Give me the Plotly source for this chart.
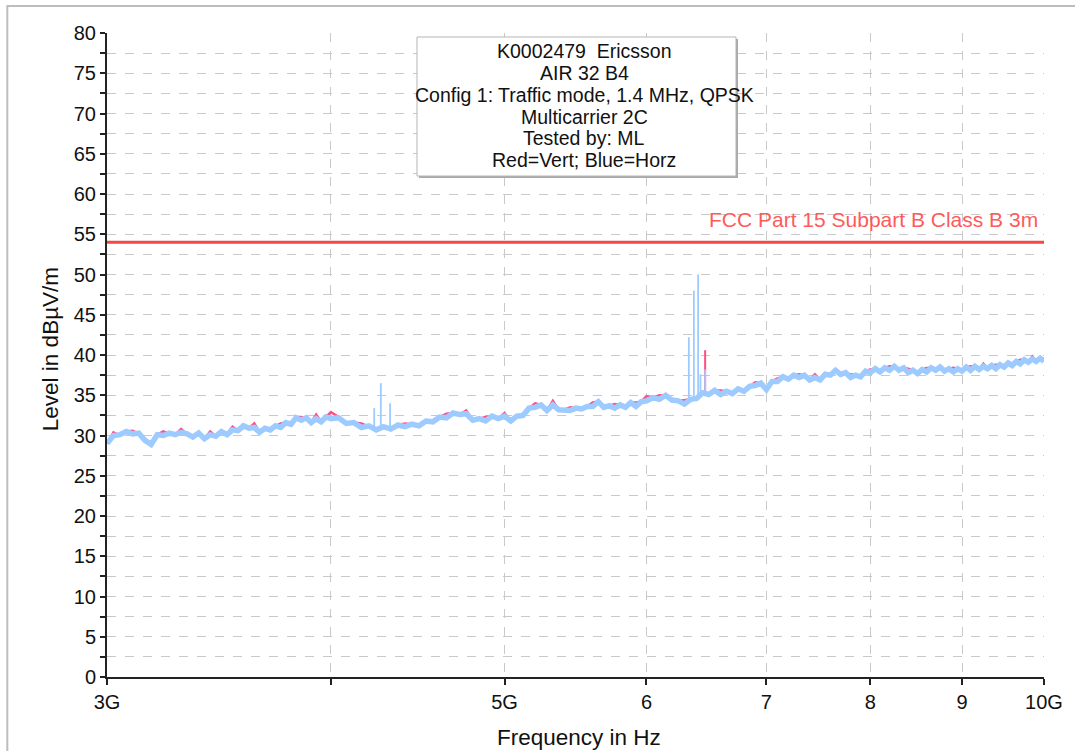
import plotly.graph_objects as go

# ---------------- data ----------------
freq_ghz = [
    3.000, 3.025, 3.050, 3.075, 3.100, 3.125, 3.150, 3.175, 3.200, 3.225,
    3.250, 3.275, 3.300, 3.325, 3.350, 3.375, 3.400, 3.425, 3.450, 3.475,
    3.500, 3.525, 3.550, 3.575, 3.600, 3.625, 3.650, 3.675, 3.700, 3.725,
    3.750, 3.775, 3.800, 3.825, 3.850, 3.875, 3.900, 3.925, 3.950, 3.975,
    4.000,
    4.04, 4.08, 4.12, 4.16, 4.20, 4.24, 4.28, 4.32, 4.36, 4.40,
    4.44, 4.48, 4.52, 4.56, 4.60, 4.64, 4.68, 4.72, 4.76, 4.80,
    4.84, 4.88, 4.92, 4.96, 5.00, 5.04, 5.08, 5.12, 5.16, 5.20,
    5.24, 5.28, 5.32, 5.36, 5.40, 5.44, 5.48, 5.52, 5.56, 5.60,
    5.64, 5.68, 5.72, 5.76, 5.80, 5.84, 5.88, 5.92, 5.96, 6.00,
    6.05, 6.10, 6.15, 6.20, 6.25, 6.30, 6.35, 6.40, 6.45, 6.50,
    6.55, 6.60, 6.65, 6.70, 6.75, 6.80, 6.85, 6.90, 6.95, 7.00,
    7.05, 7.10, 7.15, 7.20, 7.25, 7.30, 7.35, 7.40, 7.45, 7.50,
    7.55, 7.60, 7.65, 7.70, 7.75, 7.80, 7.85, 7.90, 7.95, 8.00,
    8.05, 8.10, 8.15, 8.20, 8.25, 8.30, 8.35, 8.40, 8.45, 8.50,
    8.55, 8.60, 8.65, 8.70, 8.75, 8.80, 8.85, 8.90, 8.95, 9.00,
    9.05, 9.10, 9.15, 9.20, 9.25, 9.30, 9.35, 9.40, 9.45, 9.50,
    9.55, 9.60, 9.65, 9.70, 9.75, 9.80, 9.85, 9.90, 9.95, 10.00,
]

# Blue = horizontal polarisation (dBuV/m)
horz_level = [
    29.0, 30.0, 30.1, 30.5, 30.2, 30.3, 29.4, 28.9, 30.1, 30.0,
    30.3, 30.1, 30.4, 30.2, 29.8, 30.3, 29.6, 30.1, 29.9, 30.5,
    30.1, 30.7, 30.6, 31.2, 30.9, 31.0, 30.4, 30.9, 30.7, 31.2,
    31.0, 31.6, 31.4, 32.2, 31.9, 32.2, 31.6, 32.1, 31.7, 32.3,
    32.1,
    32.2, 31.5, 31.6, 31.0, 31.2, 30.7, 31.1, 30.8, 31.3, 31.1,
    31.4, 31.2, 31.8, 31.7, 32.3, 32.2, 32.8, 32.6, 32.7, 31.9,
    32.1, 31.8, 32.4, 32.1, 32.4, 31.8, 32.4, 32.5, 33.4, 33.5,
    33.8, 33.1, 33.8, 33.2, 33.2, 33.1, 33.4, 33.3, 33.6, 33.6,
    34.2, 33.5, 33.7, 33.4, 33.8, 33.5, 34.1, 33.6, 34.2, 34.3,
    34.7, 34.5, 35.0, 34.4, 34.3, 33.9, 34.5, 34.6, 35.3, 35.1,
    35.6, 35.1, 35.5, 35.2, 35.8, 35.5, 36.1, 36.2, 36.5, 35.7,
    36.7, 36.7, 37.3, 37.0, 37.5, 37.2, 37.5, 36.9, 37.2, 36.9,
    37.6, 37.5, 38.1, 37.6, 37.8, 37.2, 37.5, 37.3, 38.0, 37.8,
    38.3, 37.9, 38.4, 38.1, 38.6, 38.1, 38.4, 37.8, 38.1, 37.7,
    38.2, 37.9, 38.4, 38.1, 38.5, 38.0, 38.3, 37.9, 38.3, 38.0,
    38.5, 38.1, 38.6, 38.2, 38.6, 38.3, 38.7, 38.3, 38.8, 38.5,
    39.0, 38.7, 39.2, 38.9, 39.4, 39.1, 39.5, 39.2, 39.6, 39.2,
]

# Red = vertical polarisation (dBuV/m)
vert_level = [
    29.0, 30.4, 30.0, 30.5, 30.6, 30.2, 29.4, 29.0, 30.1, 30.5,
    30.2, 30.1, 30.8, 30.1, 29.8, 30.3, 29.6, 30.5, 29.9, 30.4,
    30.2, 31.1, 30.6, 31.2, 30.9, 31.5, 30.4, 30.9, 30.8, 31.2,
    31.5, 31.6, 31.4, 32.3, 32.3, 32.1, 31.6, 32.6, 31.7, 32.3,
    32.9,
    32.3, 31.5, 31.6, 31.5, 31.1, 30.7, 31.1, 30.9, 31.3, 31.5,
    31.4, 31.2, 31.9, 31.7, 32.3, 32.7, 32.8, 32.6, 33.1, 31.9,
    32.1, 32.3, 32.4, 32.1, 32.8, 31.8, 32.4, 32.6, 33.4, 34.0,
    33.8, 33.1, 34.3, 33.2, 33.2, 33.5, 33.4, 33.3, 33.6, 34.1,
    34.2, 33.5, 33.7, 33.9, 33.8, 33.5, 34.1, 34.1, 34.2, 34.9,
    34.7, 35.0, 35.0, 34.4, 34.3, 34.4, 34.5, 34.6, 35.4, 35.1,
    35.6, 35.6, 35.5, 35.2, 35.8, 35.5, 36.1, 36.6, 36.5, 35.7,
    36.7, 37.1, 37.3, 37.0, 37.5, 37.6, 37.5, 36.9, 37.6, 36.9,
    37.6, 37.5, 38.2, 37.6, 37.8, 37.6, 37.5, 37.3, 38.0, 38.2,
    38.3, 37.9, 38.4, 38.6, 38.6, 38.1, 38.4, 38.3, 38.1, 37.7,
    38.2, 38.4, 38.4, 38.1, 38.5, 38.0, 38.3, 38.4, 38.3, 38.0,
    38.5, 38.6, 38.6, 38.2, 38.9, 38.3, 38.7, 38.8, 38.8, 38.5,
    39.1, 38.7, 39.2, 39.4, 39.4, 39.1, 39.8, 39.2, 39.6, 39.5,
]

# narrow spikes
horz_spike_ghz = [4.229, 4.265, 4.316, 6.336, 6.377, 6.412, 6.431, 6.470]
horz_spike_top = [33.4, 36.5, 34.0, 42.2, 48.0, 50.0, 37.6, 38.2]
horz_spike_base = [31.0, 31.0, 31.0, 34.3, 34.5, 34.7, 34.8, 34.9]
vert_spike_ghz = [6.470]
vert_spike_top = [40.6]
vert_spike_base = [35.0]

# limit line
limit_ghz = [3.0, 10.0]
limit_level = [54, 54]
limit_label = "FCC Part 15 Subpart B Class B 3m"

x_tickvals = [3, 4, 5, 6, 7, 8, 9, 10]
x_ticktext = ["3G", "", "5G", "6", "7", "8", "9", "10G"]
y_tickvals = list(range(0, 81, 5))

info_lines = [
    "K0002479\u00a0 Ericsson",
    "AIR 32 B4",
    "Config 1: Traffic mode, 1.4 MHz, QPSK",
    "Multicarrier 2C",
    "Tested by: ML",
    "Red=Vert; Blue=Horz",
]

# ---------------- figure ----------------
W, H = 1075, 751
L, R, T, B = 107, 28, 33, 74
PW, PH = W - L - R, H - T - B


def px(xp):
    return (xp - L) / PW


def py(yp):
    return (H - B - yp) / PH


RED = "#ff4f86"
BLUE = "#9dcbff"
FONT = "Liberation Sans, Arial, sans-serif"


def spikes(fs, tops, bases):
    xs, ys = [], []
    for f, t, b in zip(fs, tops, bases):
        xs += [f, f, None]
        ys += [b, t, None]
    return xs, ys


fig = go.Figure()

fig.add_trace(go.Scatter(x=freq_ghz, y=vert_level, mode="lines",
                         line=dict(color=RED, width=2.5), hoverinfo="skip"))
sx, sy = spikes(vert_spike_ghz, vert_spike_top, vert_spike_base)
fig.add_trace(go.Scatter(x=sx, y=sy, mode="lines",
                         line=dict(color=RED, width=2), hoverinfo="skip"))
fig.add_trace(go.Scatter(x=freq_ghz, y=horz_level, mode="lines",
                         line=dict(color=BLUE, width=5.5), hoverinfo="skip"))
sx, sy = spikes(horz_spike_ghz, horz_spike_top, horz_spike_base)
fig.add_trace(go.Scatter(x=sx, y=sy, mode="lines",
                         line=dict(color=BLUE, width=1.8), hoverinfo="skip"))
fig.add_trace(go.Scatter(x=limit_ghz, y=limit_level, mode="lines",
                         line=dict(color="#f24848", width=3), hoverinfo="skip"))

grid = dict(showgrid=True, gridcolor="#c9c9c9", griddash="dash", gridwidth=1)

fig.update_layout(
    width=W, height=H,
    margin=dict(l=L, r=R, t=T, b=B, pad=0),
    paper_bgcolor="white", plot_bgcolor="white",
    showlegend=False,
    font=dict(family=FONT, size=20, color="#111"),
    xaxis=dict(
        type="log", range=[0.47712125472, 1.0],
        tickmode="array", tickvals=x_tickvals, ticktext=x_ticktext,
        showline=True, linecolor="#222", linewidth=2,
        ticks="outside", ticklen=6, tickwidth=1.5, tickcolor="#222",
        zeroline=False, **grid,
    ),
    yaxis=dict(
        range=[0, 80], tickmode="array", tickvals=y_tickvals,
        showline=True, linecolor="#222", linewidth=2,
        ticks="outside", ticklen=5, tickwidth=1.5, tickcolor="#222",
        zeroline=False, **grid,
        minor=dict(tick0=0, dtick=2.5, ticks="outside", ticklen=5,
                   tickwidth=1.5, tickcolor="#222",
                   showgrid=True, gridcolor="#c9c9c9", griddash="dash",
                   gridwidth=1),
    ),
)

shapes = [
    # outer frame
    dict(type="rect", xref="paper", yref="paper",
         x0=px(7), x1=px(1090), y0=py(6), y1=py(770),
         line=dict(color="#bdbdbd", width=2), fillcolor="rgba(0,0,0,0)",
         layer="below"),
    # info box shadow
    dict(type="rect", xref="paper", yref="paper",
         x0=px(420), x1=px(740), y0=py(39), y1=py(178),
         line=dict(width=0), fillcolor="#a8a8a8", layer="above"),
    # info box
    dict(type="rect", xref="paper", yref="paper",
         x0=px(418), x1=px(738), y0=py(37), y1=py(176),
         line=dict(color="#b5b5b5", width=1), fillcolor="white",
         layer="above"),
]
fig.update_layout(shapes=shapes)

line_y = [50, 72, 94, 116, 137, 159]
for txt, yy in zip(info_lines, line_y):
    fig.add_annotation(text=txt, xref="paper", yref="paper",
                       x=px(586), y=py(yy + 1), xanchor="center",
                       yanchor="middle", showarrow=False,
                       font=dict(size=19.5, color="#111", family=FONT))

fig.add_annotation(text=limit_label, xref="paper", yref="paper",
                   x=px(1043), y=py(219), xanchor="right", yanchor="middle",
                   showarrow=False,
                   font=dict(size=21, color="#ff5a5a", family=FONT))

fig.add_annotation(text="Frequency in Hz", xref="paper", yref="paper",
                   x=px(581), y=py(737), xanchor="center", yanchor="middle",
                   showarrow=False, font=dict(size=22.5, color="#111", family=FONT))
fig.add_annotation(text="Level in dBµV/m", xref="paper", yref="paper",
                   x=px(50), y=py(349), xanchor="center", yanchor="middle",
                   textangle=-90, showarrow=False,
                   font=dict(size=22.5, color="#111", family=FONT))

fig.write_html("out.html")
